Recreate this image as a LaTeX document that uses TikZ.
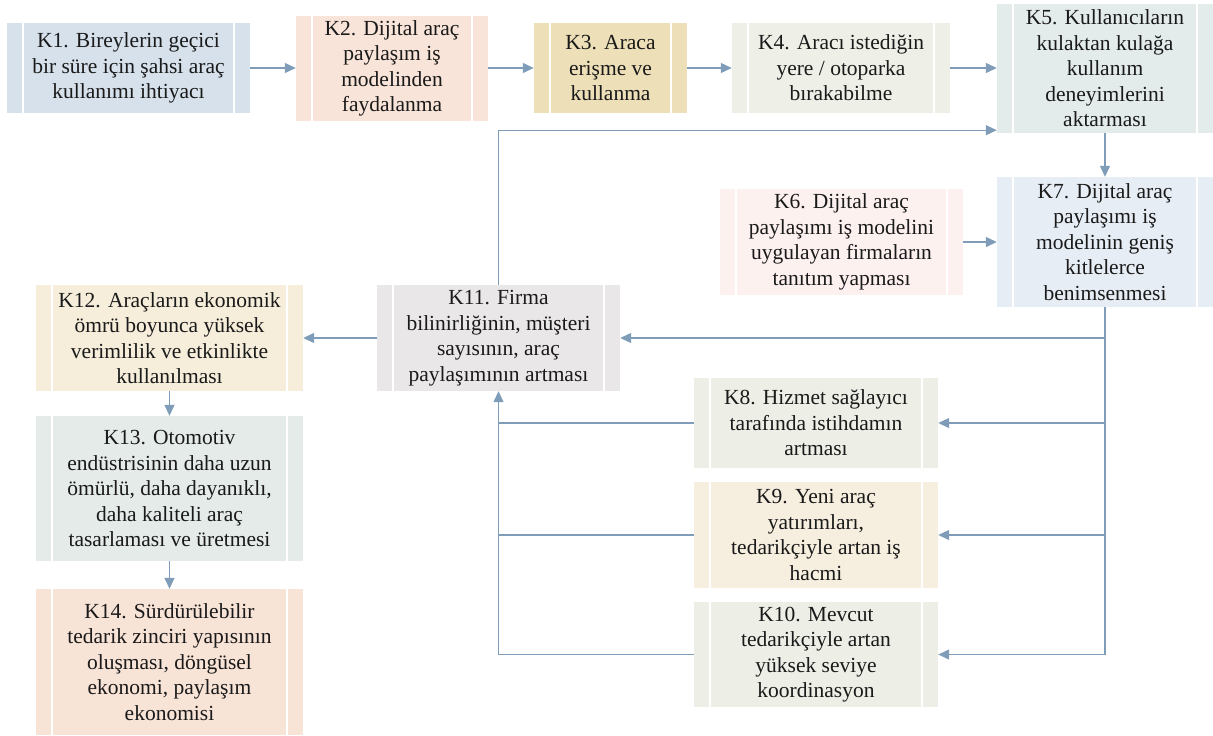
\documentclass[tikz,border=0pt]{standalone}
\usepackage{fontspec}
\setmainfont{Liberation Serif}
\usetikzlibrary{arrows.meta}
\definecolor{cK1}{HTML}{D6E1EC}
\definecolor{cK2}{HTML}{F8E4D8}
\definecolor{cK3}{HTML}{EDDFB8}
\definecolor{cK4}{HTML}{EEEFE7}
\definecolor{cK5}{HTML}{E3EBEB}
\definecolor{cK6}{HTML}{FDF1F0}
\definecolor{cK7}{HTML}{E6EDF4}
\definecolor{cK8}{HTML}{EDEEE6}
\definecolor{cK9}{HTML}{F6EEDE}
\definecolor{cK10}{HTML}{EDEEE6}
\definecolor{cK11}{HTML}{EAE7E8}
\definecolor{cK12}{HTML}{F6EEDB}
\definecolor{cK13}{HTML}{E4EBE9}
\definecolor{cK14}{HTML}{F8E3D7}
\definecolor{lnc}{HTML}{7F9DB8}
\definecolor{txc}{HTML}{1A1A1A}
\begin{document}
\begin{tikzpicture}[x=1pt,y=-1pt,
  kbox/.style={rectangle, fill=#1, inner sep=0pt, align=center, text=txc,
    font=\fontsize{21.5}{25.5}\selectfont,
    path picture={
      \draw[white,line width=2pt] ([xshift=16pt]path picture bounding box.south west) -- ([xshift=16pt]path picture bounding box.north west);
      \draw[white,line width=2pt] ([xshift=-16pt]path picture bounding box.south east) -- ([xshift=-16pt]path picture bounding box.north east);
    }},
  ln/.style={draw=lnc, line width=1.3pt},
  arr/.style={ln, -{Triangle[length=11pt,width=10pt]}}
]
\useasboundingbox (0,0) rectangle (1213,736);

\node[kbox=cK1, minimum width=243pt, minimum height=90pt] (K1) at (128.5,68) {K1. Bireylerin geçici\\bir süre için şahsi araç\\kullanımı ihtiyacı};
\node[kbox=cK2, minimum width=192pt, minimum height=105pt] (K2) at (392,68.5) {K2. Dijital araç\\paylaşım iş\\modelinden\\faydalanma};
\node[kbox=cK3, minimum width=153pt, minimum height=90pt] (K3) at (610.5,68) {K3. Araca\\erişme ve\\kullanma};
\node[kbox=cK4, minimum width=218pt, minimum height=90pt] (K4) at (841,68) {K4. Aracı istediğin\\yere / otoparka\\bırakabilme};
\node[kbox=cK5, minimum width=216pt, minimum height=129pt] (K5) at (1105,68.5) {K5. Kullanıcıların\\kulaktan kulağa\\kullanım\\deneyimlerini\\aktarması};
\node[kbox=cK6, minimum width=243pt, minimum height=106pt] (K6) at (841.5,242) {K6. Dijital araç\\paylaşımı iş modelini\\uygulayan firmaların\\tanıtım yapması};
\node[kbox=cK7, minimum width=216pt, minimum height=130pt] (K7) at (1105,242) {K7. Dijital araç\\paylaşımı iş\\modelinin geniş\\kitlelerce\\benimsenmesi};
\node[kbox=cK11, minimum width=243pt, minimum height=106pt] (K11) at (498.5,338) {K11. Firma\\bilinirliğinin, müşteri\\sayısının, araç\\paylaşımının artması};
\node[kbox=cK12, minimum width=267pt, minimum height=106pt] (K12) at (169.5,338) {K12. Araçların ekonomik\\ömrü boyunca yüksek\\verimlilik ve etkinlikte\\kullanılması};
\node[kbox=cK13, minimum width=267pt, minimum height=145pt] (K13) at (169.5,488.5) {K13. Otomotiv\\endüstrisinin daha uzun\\ömürlü, daha dayanıklı,\\daha kaliteli araç\\tasarlaması ve üretmesi};
\node[kbox=cK14, minimum width=267pt, minimum height=146pt] (K14) at (169.5,662) {K14. Sürdürülebilir\\tedarik zinciri yapısının\\oluşması, döngüsel\\ekonomi, paylaşım\\ekonomisi};
\node[kbox=cK8, minimum width=244pt, minimum height=90pt] (K8) at (816,423) {K8. Hizmet sağlayıcı\\tarafında istihdamın\\artması};
\node[kbox=cK9, minimum width=244pt, minimum height=106pt] (K9) at (816,535) {K9. Yeni araç\\yatırımları,\\tedarikçiyle artan iş\\hacmi};
\node[kbox=cK10, minimum width=244pt, minimum height=105pt] (K10) at (816,654.5) {K10. Mevcut\\tedarikçiyle artan\\yüksek seviye\\koordinasyon};

% top row
\draw[arr] (K1.east) -- (K1.east -| K2.west);
\draw[arr] (K3.west -| K2.east) -- (K3.west);
\draw[arr] (K3.east) -- (K4.west);
\draw[arr] (K4.east) -- (K4.east -| K5.west);
\draw[arr] (K11.north) |- ([yshift=3pt]K5.south west);
\draw[arr] (K5.south) -- (K7.north);
\draw[arr] (K6.east) -- (K6.east -| K7.west);

% right trunk
\draw[arr] (K7.south) |- (K10.east);
\draw[arr] (K7.south |- K11.east) -- (K11.east);
\draw[arr] (K7.south |- K8.east) -- (K8.east);
\draw[arr] (K7.south |- K9.east) -- (K9.east);

% left collector
\draw[arr] (K10.west) -| (K11.south);
\draw[ln] (K8.west) -- (K8.west -| K11.south);
\draw[ln] (K9.west) -- (K9.west -| K11.south);

% left column
\draw[arr] (K11.west) -- (K11.west -| K12.east);
\draw[arr] (K12.south) -- (K13.north);
\draw[arr] (K13.south) -- (K14.north);
\end{tikzpicture}
\end{document}
